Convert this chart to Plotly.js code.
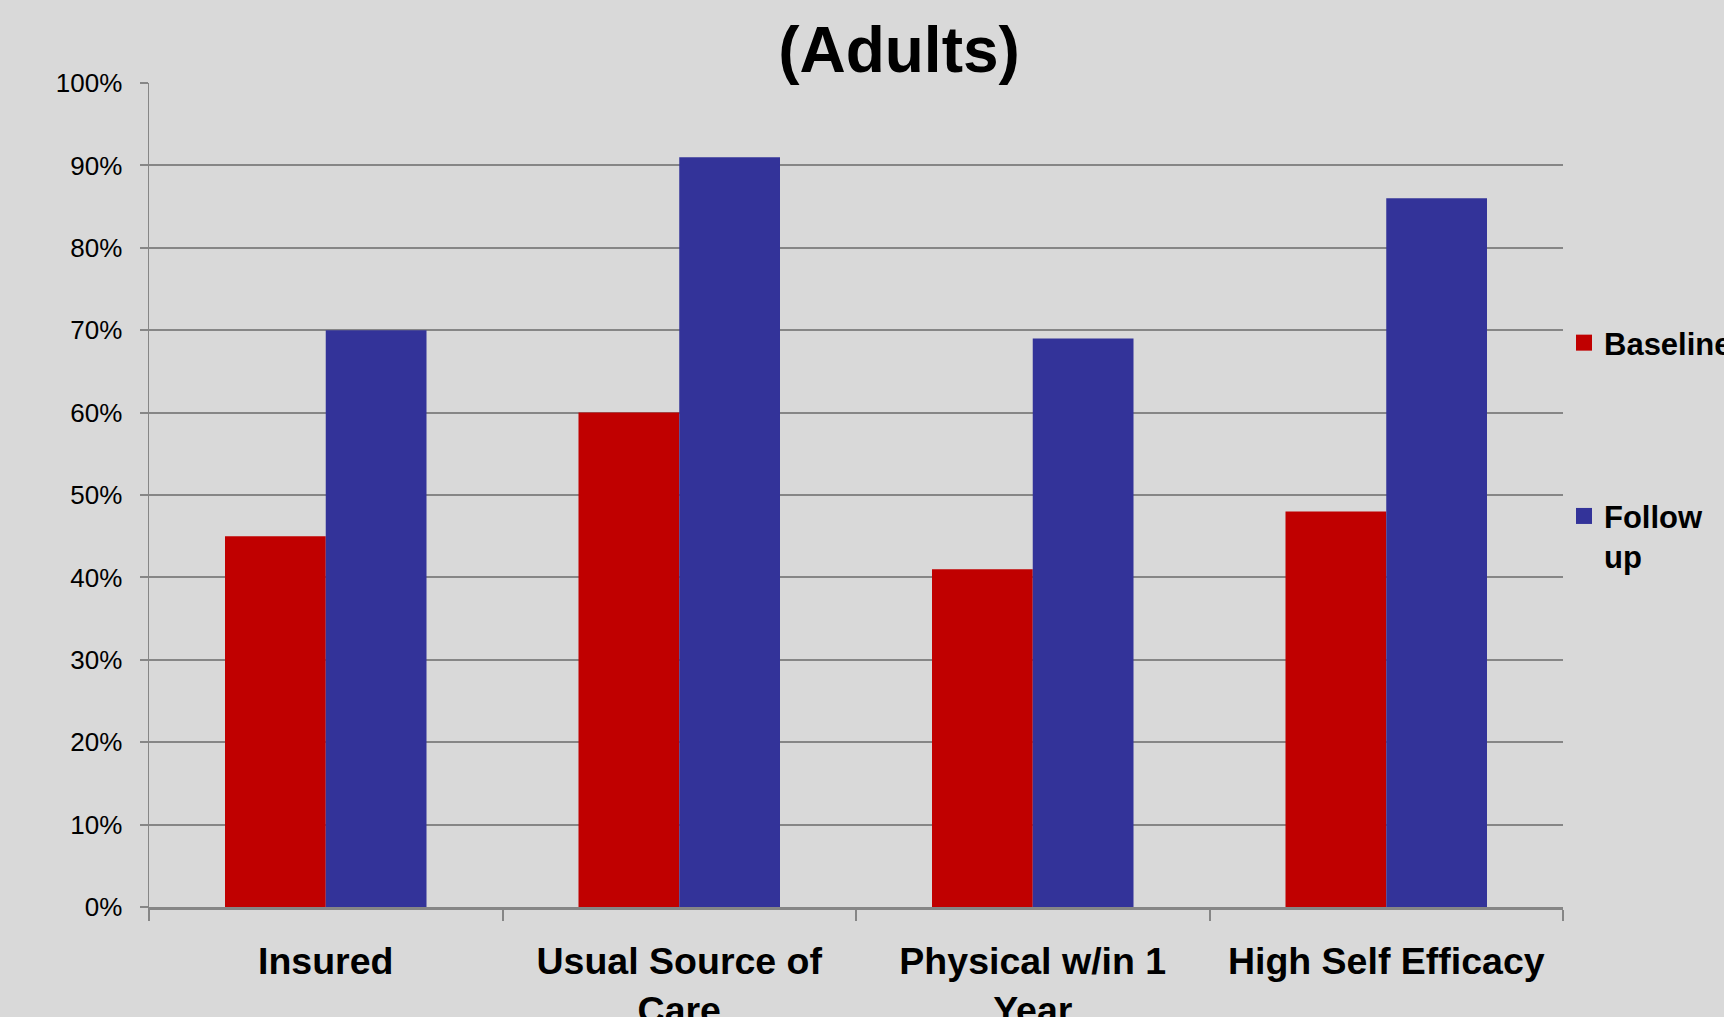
<!DOCTYPE html>
<html>
<head>
<meta charset="utf-8">
<script src="https://cdn.plot.ly/plotly-3.0.1.min.js"></script>
<style>html,body{margin:0;padding:0;background:#d9d9d9;}#chart{width:1724px;height:1017px;}</style>
</head>
<body>
<div id="chart"></div>
<script>
const categories = ["Insured", "Usual Source of<br>Care", "Physical w/in 1<br>Year", "High Self Efficacy"];
const baseline = [0.45, 0.60, 0.41, 0.48];
const followUp = [0.70, 0.91, 0.69, 0.86];
const seriesNames = ["Baseline", "Follow<br>up"];
const seriesColors = ["#C00000", "#333399"];
const titleText = "(Adults)";

const FONT = "Liberation Sans, Arial, sans-serif";

const traces = [
  {type: "bar", x: categories, y: baseline, name: seriesNames[0], marker: {color: seriesColors[0]}, showlegend: false},
  {type: "bar", x: categories, y: followUp, name: seriesNames[1], marker: {color: seriesColors[1]}, showlegend: false},
  {type: "scatter", mode: "markers", x: [null], y: [null], name: seriesNames[0], legendgroup: "a",
   marker: {symbol: "square", size: 16, color: seriesColors[0]}, hoverinfo: "skip"},
  {type: "scatter", mode: "markers", x: [null], y: [null], name: seriesNames[1], legendgroup: "b",
   marker: {symbol: "square", size: 16, color: seriesColors[1]}, hoverinfo: "skip"}
];

const layout = {
  width: 1724, height: 1017,
  paper_bgcolor: "#d9d9d9", plot_bgcolor: "#d9d9d9",
  margin: {l: 149, r: 161, t: 83, b: 110, autoexpand: false},
  font: {family: FONT, color: "#000"},
  title: {
    text: titleText,
    font: {family: FONT, size: 64, weight: "bold", color: "#000"},
    xref: "container", x: 899/1724, xanchor: "center",
    yref: "container", y: 1 - 50/1017, yanchor: "middle"
  },
  barmode: "group", bargap: 0.43, bargroupgap: 0,
  xaxis: {
    type: "category",
    showline: true, linecolor: "#868686", linewidth: 3,
    ticks: "outside", tickson: "boundaries", ticklen: 11, tickwidth: 2, tickcolor: "#868686",
    ticklabelstandoff: 19,
    tickfont: {family: FONT, size: 37.5, weight: "bold", color: "#000"},
    showgrid: false, zeroline: false, fixedrange: true
  },
  yaxis: {
    range: [0, 1], dtick: 0.1, tickformat: ".0%",
    showline: true, linecolor: "#868686", linewidth: 1.5,
    ticks: "outside", ticklen: 8, tickwidth: 2, tickcolor: "#868686",
    ticklabelstandoff: 12,
    showgrid: true, gridcolor: "#868686", gridwidth: 2,
    zeroline: false,
    tickfont: {family: FONT, size: 26, color: "#000"},
    fixedrange: true
  },
  showlegend: true,
  legend: {
    orientation: "v", traceorder: "grouped", tracegroupgap: 130,
    xref: "container", x: 1564/1724, xanchor: "left",
    yref: "container", y: 1 - 316/1017, yanchor: "top",
    valign: "top",
    bgcolor: "rgba(0,0,0,0)", borderwidth: 0,
    font: {family: FONT, size: 31, weight: "bold", color: "#000"}
  }
};

Plotly.newPlot("chart", traces, layout, {displayModeBar: false, staticPlot: true});
</script>
</body>
</html>
